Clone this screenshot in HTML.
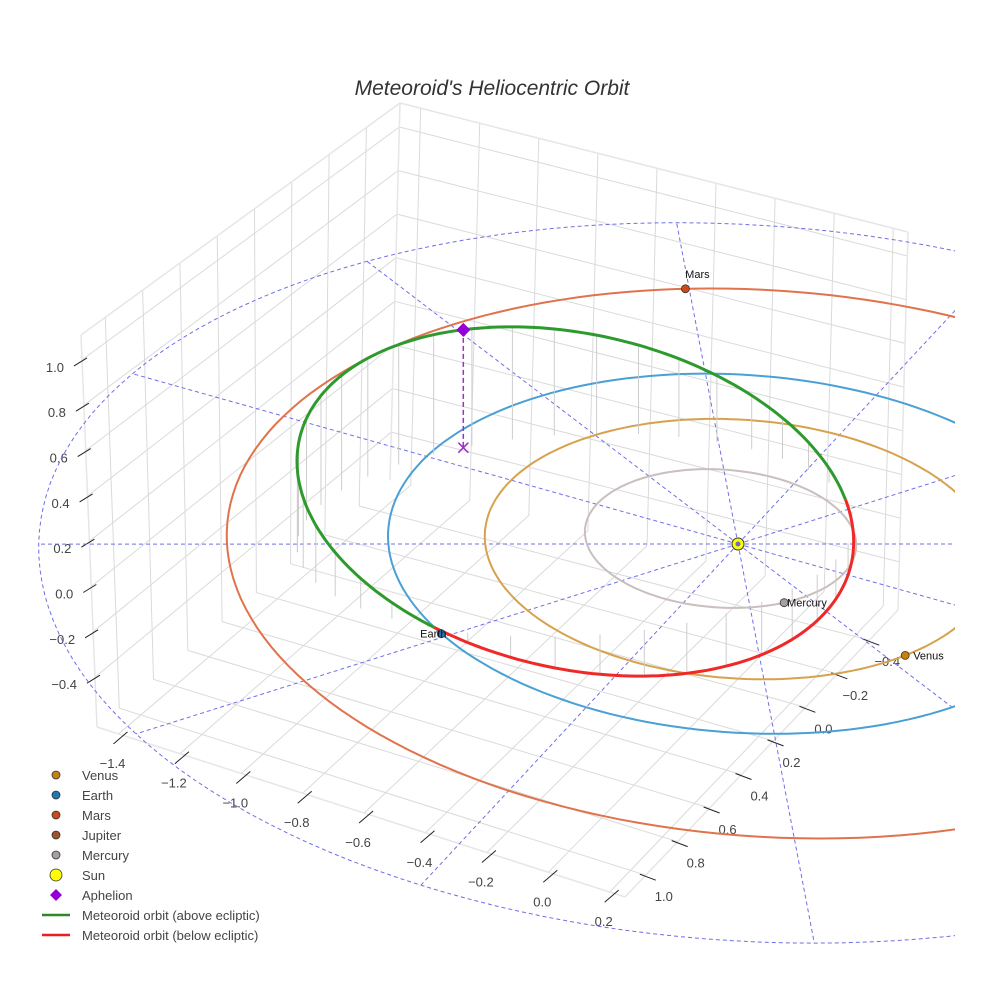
<!DOCTYPE html>
<html><head><meta charset="utf-8">
<style>
html,body{margin:0;padding:0;background:#fff;}
svg{display:block;font-family:"Liberation Sans",Arial,sans-serif;}
</style></head>
<body>
<svg id="chart" width="984" height="984" viewBox="0 0 984 984" xmlns="http://www.w3.org/2000/svg">
<defs><clipPath id="plotclip"><rect x="0" y="0" width="955" height="984"/></clipPath></defs>
<text x="492" y="95" text-anchor="middle" font-size="21" font-style="italic" fill="#333">Meteoroid's Heliocentric Orbit</text>
<g id="box"></g>
<g id="plot" clip-path="url(#plotclip)"></g>
<g id="legend"></g>
</svg>
<script>
// ---- data ----
const xTicks=[-1.4,-1.2,-1.0,-0.8,-0.6,-0.4,-0.2,0.0,0.2];
const yTicks=[-0.4,-0.2,0.0,0.2,0.4,0.6,0.8,1.0];
const zTicks=[-0.4,-0.2,0.0,0.2,0.4,0.6,0.8,1.0];
const planetNames=['Mercury','Venus','Earth','Mars'];
const orbitRadius=[0.387,0.723,1.0,1.53];
const orbitCx=[-0.06,0,0,0.05];
const orbitCy=[-0.01,0,0,-0.05];
const planetAngle=[38,26,121,237];
const meteorCenter=[-0.43,0.17,0.178];
const meteorAxisU=[-0.64,0.50,0.232];
const meteorAxisV=[-0.30,-0.47,0.372];
const aphelion=[-0.93,-0.10,0.607];
const gridRadii=[1,2];
const spokeAngles=[0,30,60,90,120,150,180,210,240,270,300,330];

const NS='http://www.w3.org/2000/svg';
function mk(tag,attrs,parent){const e=document.createElementNS(NS,tag);for(const k in attrs)e.setAttribute(k,attrs[k]);parent.appendChild(e);return e;}
const box=document.getElementById('box'),plot=document.getElementById('plot'),leg=document.getElementById('legend');

// ---- axis box (screen corners of plotly scene) ----
const XR=[-1.47,0.25],YR=[-0.58,1.13],ZR=[-0.62,1.11];
const cB=[390,480],cR=[898,610],cL=[97,727],cF=[625,897],cBt=[400,103],cLt=[81,335],cRt=[908,232];
function bil(P00,P10,P01,P11,u,v){return [P00[0]*(1-u)*(1-v)+P10[0]*u*(1-v)+P01[0]*(1-u)*v+P11[0]*u*v,P00[1]*(1-u)*(1-v)+P10[1]*u*(1-v)+P01[1]*(1-u)*v+P11[1]*u*v];}
const fx=x=>(x-XR[0])/(XR[1]-XR[0]), fy=y=>(y-YR[0])/(YR[1]-YR[0]), fz=z=>(z-ZR[0])/(ZR[1]-ZR[0]);
const floorP=(u,v)=>bil(cB,cR,cL,cF,u,v);
const leftP=(v,w)=>bil(cB,cL,cBt,cLt,v,w);
const rightP=(u,w)=>bil(cB,cR,cBt,cRt,u,w);
function seg(a,b,attrs,parent){return mk('line',Object.assign({x1:a[0].toFixed(1),y1:a[1].toFixed(1),x2:b[0].toFixed(1),y2:b[1].toFixed(1)},attrs),parent);}
const gs={stroke:'#dadada','stroke-width':1};
xTicks.forEach(x=>{const u=fx(x);
  let l=seg(floorP(u,0),floorP(u,1),gs,box);  
  l=seg(rightP(u,0),rightP(u,1),gs,box);  });
yTicks.forEach(y=>{const v=fy(y);
  let l=seg(floorP(0,v),floorP(1,v),gs,box);  
  l=seg(leftP(v,0),leftP(v,1),gs,box);  });
zTicks.forEach(z=>{const w=fz(z);
  let l=seg(leftP(0,w),leftP(1,w),gs,box);  
  l=seg(rightP(0,w),rightP(1,w),gs,box);  });
const es={stroke:'#e6e6e6','stroke-width':1.5};
[[cL,cF],[cF,cR],[cL,cLt],[cB,cBt],[cR,cRt],[cLt,cBt],[cBt,cRt]].forEach(p=>{const l=seg(p[0],p[1],es,box);
   });
xTicks.forEach(x=>{const p=floorP(fx(x),1);const c=[p[0]+2,p[1]+4];
  seg([c[0]-7,c[1]+6],[c[0]+7,c[1]-6],{stroke:'#222','stroke-width':1},box);
  const t=mk('text',{x:(c[0]-8).toFixed(1),y:(c[1]+30).toFixed(1),'text-anchor':'middle','font-size':13,fill:'#444'},box);
  t.textContent=x.toFixed(1).replace('-','\u2212');
   });
yTicks.forEach(y=>{const p=floorP(1,fy(y));const c=[p[0]+2,p[1]+2];
  seg([c[0]-8,c[1]-3],[c[0]+8,c[1]+3],{stroke:'#222','stroke-width':1},box);
  const t=mk('text',{x:(c[0]+16).toFixed(1),y:(c[1]+24).toFixed(1),'text-anchor':'middle','font-size':13,fill:'#444'},box);
  t.textContent=y.toFixed(1).replace('-','\u2212');
   });
zTicks.forEach(z=>{const p=leftP(1,fz(z));const c=[p[0]-1,p[1]+2];
  seg([c[0]-7,c[1]+4],[c[0]+6,c[1]-4],{stroke:'#222','stroke-width':1},box);
  const t=mk('text',{x:(c[0]-17).toFixed(1),y:(c[1]+10).toFixed(1),'text-anchor':'end','font-size':13,fill:'#444'},box);
  t.textContent=z.toFixed(1).replace('-','\u2212');
   });

// ---- ecliptic projection ----
const S=[738,544],EX=[320,90],EY=[-145,156],EZ=-200;
function proj(x,y,z){const dx=x*EX[0]+y*EY[0],dy=x*EX[1]+y*EY[1];const f=1+0.0003*dy;return [S[0]+f*dx,S[1]+f*(dy+z*EZ)];}
function pathFrom(pts,close){return pts.map((p,i)=>(i?'L':'M')+p[0].toFixed(1)+' '+p[1].toFixed(1)).join(' ')+(close?' Z':'');}
function circlePts(cx,cy,r){const a=[];for(let i=0;i<=180;i++){const t=i/180*2*Math.PI;a.push(proj(cx+r*Math.cos(t),cy+r*Math.sin(t),0));}return a;}
const dash={fill:'none',stroke:'#6f6fe8','stroke-width':1,'stroke-dasharray':'4 3'};
gridRadii.forEach(r=>{const p=mk('path',Object.assign({d:pathFrom(circlePts(0,0,r),true)},dash),plot);
   });
spokeAngles.forEach(a=>{const t=a*Math.PI/180;const p=seg(proj(0,0,0),proj(2*Math.cos(t),2*Math.sin(t),0),dash,plot);
   });

const orbitColors=['#c9bfbd','#d6a24c','#4aa0d4','#e0734c'];
const markerColors=['#a8a0a0','#c8800f','#1f77b4','#cc4a1a'];
planetNames.forEach((n,i)=>{const p=mk('path',{d:pathFrom(circlePts(orbitCx[i],orbitCy[i],orbitRadius[i]),true),fill:'none',stroke:orbitColors[i],'stroke-width':2},plot);
   });

// meteoroid orbit: 3D ellipse C + U cos t + V sin t
const samples=[];
for(let i=0;i<=240;i++){const t=i/240*2*Math.PI,c=Math.cos(t),s=Math.sin(t);
  samples.push([0,1,2].map(j=>meteorCenter[j]+meteorAxisU[j]*c+meteorAxisV[j]*s));}
samples.forEach((q,i)=>{if(i%6!==0)return;const a=proj(q[0],q[1],q[2]),b=proj(q[0],q[1],0);
  const l=seg(a,b,{stroke:'#cdcdcd','stroke-width':1},plot);
   });
let run=[],sign=null;
function flush(){if(run.length>1){const p=mk('path',{d:pathFrom(run.map(q=>proj(q[0],q[1],q[2])),false),fill:'none',stroke:sign?'#2e9a2e':'#f02828','stroke-width':3,'stroke-linejoin':'round'},plot);
   }}
samples.forEach(q=>{const s=q[2]>=0;if(sign===null)sign=s;if(s!==sign){run.push(q);flush();run=[run[run.length-1]];sign=s;}run.push(q);});
flush();

// aphelion
const ap=proj(aphelion[0],aphelion[1],aphelion[2]),ag=proj(aphelion[0],aphelion[1],0);
let el=seg(ap,ag,{stroke:'#9b30c8','stroke-width':1.5,'stroke-dasharray':'5 3'},plot);
 
el=mk('path',{d:`M${ag[0]-5} ${ag[1]-5}L${ag[0]+5} ${ag[1]+5}M${ag[0]-5} ${ag[1]+5}L${ag[0]+5} ${ag[1]-5}`,stroke:'#9b30c8','stroke-width':1.5},plot);
 
el=mk('path',{d:`M${ap[0]} ${ap[1]-7}L${ap[0]+7} ${ap[1]}L${ap[0]} ${ap[1]+7}L${ap[0]-7} ${ap[1]}Z`,fill:'#9400d3'},plot);
 

// sun
el=mk('circle',{cx:S[0],cy:S[1],r:6,fill:'#ffff00',stroke:'#333','stroke-width':1},plot);
 
mk('circle',{cx:S[0],cy:S[1],r:2.5,fill:'#6a6ad0'},plot);

// planets
const labelOff=[[3,4,'start'],[8,4,'start'],[-8,4,'middle'],[12,-11,'middle']];
planetNames.forEach((nm,i)=>{const t=planetAngle[i]*Math.PI/180;const p=proj(orbitCx[i]+orbitRadius[i]*Math.cos(t),orbitCy[i]+orbitRadius[i]*Math.sin(t),0);
  const c=mk('circle',{cx:p[0].toFixed(1),cy:p[1].toFixed(1),r:4,fill:markerColors[i],stroke:'#333','stroke-width':0.8},plot);
   
  const tx=mk('text',{x:(p[0]+labelOff[i][0]).toFixed(1),y:(p[1]+labelOff[i][1]).toFixed(1),'text-anchor':labelOff[i][2],'font-size':11,fill:'#111'},plot);
  tx.textContent=nm;  });

// legend
const legNames=['Venus','Earth','Mars','Jupiter','Mercury','Sun','Aphelion','Meteoroid orbit (above ecliptic)','Meteoroid orbit (below ecliptic)'];
const legColors=['#c8800f','#1f77b4','#cc4a1a','#a0522d','#a8a0a0','#ffff00','#9400d3','#2e8b22','#e82020'];
legNames.forEach((nm,i)=>{const y=775+i*20;const g=mk('g',{},leg);
   
  if(i<5) mk('circle',{cx:56,cy:y,r:4,fill:legColors[i],stroke:'#333','stroke-width':0.8},g);
  else if(i===5) mk('circle',{cx:56,cy:y,r:6,fill:legColors[i],stroke:'#333','stroke-width':0.8},g);
  else if(i===6) mk('path',{d:`M56 ${y-6}L62 ${y}L56 ${y+6}L50 ${y}Z`,fill:legColors[i]},g);
  else mk('line',{x1:42,y1:y,x2:70,y2:y,stroke:legColors[i],'stroke-width':2.5},g);
  const t=mk('text',{x:82,y:y+5,'font-size':13,fill:'#444'},g);t.textContent=nm;});
</script>
</body></html>
